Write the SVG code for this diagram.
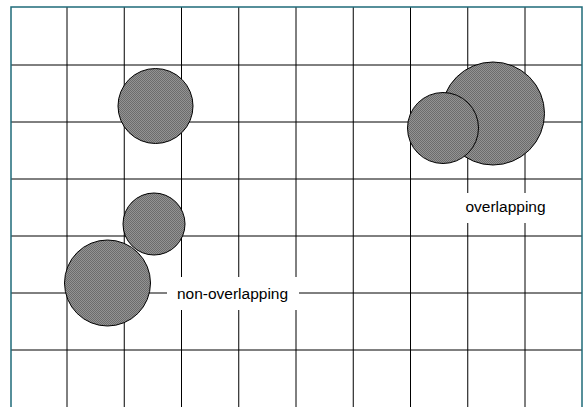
<svg xmlns="http://www.w3.org/2000/svg" width="588" height="407" viewBox="0 0 588 407">
<style>
.grid line{stroke:#000;stroke-width:1}
.disk{fill:url(#chk);stroke:#000;stroke-width:1}
.lbl{font-family:"Liberation Sans",Arial,sans-serif;font-size:15.5px;fill:#000;text-anchor:middle}
.bg{fill:#fff;stroke:none}
</style>
<defs>
<pattern id="chk" patternUnits="userSpaceOnUse" width="2" height="2">
<rect width="2" height="2" fill="#939393"/>
<rect width="1" height="1" fill="#6c6c6c"/>
<rect x="1" y="1" width="1" height="1" fill="#6c6c6c"/>
</pattern>
</defs>
<rect x="0" y="0" width="588" height="407" fill="#fff"/>
<g id="grid" class="grid">
<line x1="67" y1="7" x2="67" y2="407"/>
<line x1="124.25" y1="7" x2="124.25" y2="407"/>
<line x1="181.5" y1="7" x2="181.5" y2="407"/>
<line x1="238.75" y1="7" x2="238.75" y2="407"/>
<line x1="296" y1="7" x2="296" y2="407"/>
<line x1="353.25" y1="7" x2="353.25" y2="407"/>
<line x1="410.5" y1="7" x2="410.5" y2="407"/>
<line x1="467.75" y1="7" x2="467.75" y2="407"/>
<line x1="525" y1="7" x2="525" y2="407"/>
<line x1="11" y1="65" x2="582" y2="65"/>
<line x1="11" y1="122" x2="582" y2="122"/>
<line x1="11" y1="179" x2="582" y2="179"/>
<line x1="11" y1="236" x2="582" y2="236"/>
<line x1="11" y1="293" x2="582" y2="293"/>
<line x1="11" y1="350" x2="582" y2="350"/>
</g>
<rect id="frame" x="11" y="7" width="571" height="412" fill="none" stroke="#1f6b79" stroke-width="1.5"/>
<g id="circle-top-left"><circle class="disk" cx="155.5" cy="106" r="37.5"/></g>
<g id="circle-small-lower"><circle class="disk" cx="154" cy="224" r="31"/></g>
<g id="circle-big-lower"><circle class="disk" cx="107.5" cy="283" r="43"/></g>
<g id="circle-overlap-large"><circle class="disk" cx="493" cy="113.5" r="51.5"/></g>
<g id="circle-overlap-small"><circle class="disk" cx="443" cy="128" r="35.5"/></g>
<g id="label-non-overlapping">
<rect class="bg" x="167" y="277" width="132" height="33"/>
<text class="lbl" x="232.5" y="298.5">non-overlapping</text>
</g>
<g id="label-overlapping">
<rect class="bg" x="459" y="193" width="94" height="30"/>
<text class="lbl" x="505.5" y="212">overlapping</text>
</g>
<g id="connectors"/>
</svg>
